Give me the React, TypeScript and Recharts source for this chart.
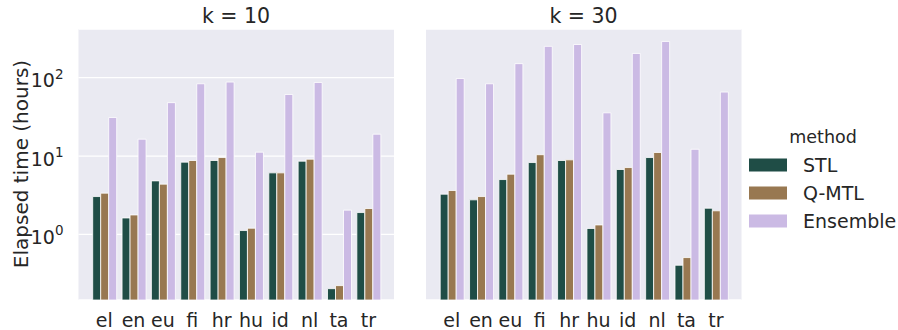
import { BarChart, Bar, XAxis, YAxis, CartesianGrid } from "recharts";

const languages = ["el", "en", "eu", "fi", "hr", "hu", "id", "nl", "ta", "tr"];

// k = 10
const stlK10 = [3.04, 1.62, 4.82, 8.36, 8.77, 1.12, 6.1, 8.6, 0.203, 1.9];
const qmtlK10 = [3.36, 1.77, 4.38, 8.77, 9.57, 1.2, 6.1, 9.12, 0.222, 2.14];
const ensembleK10 = [31, 16.4, 48, 83.6, 87.9, 11.2, 61, 86.9, 2.04, 19];

// k = 30
const stlK30 = [3.26, 2.76, 5.01, 8.26, 8.77, 1.19, 6.73, 9.57, 0.404, 2.16];
const qmtlK30 = [3.63, 3.04, 5.87, 10.4, 8.94, 1.32, 7.13, 11.1, 0.506, 2.0];
const ensembleK30 = [97.7, 83.6, 151, 251, 265, 35.6, 204, 290, 12.2, 65.5];

const methods = ["STL", "Q-MTL", "Ensemble"];
const yTicks = [1, 10, 100];
const yDomain = [0.1455, 418];

const colors: Record<string, string> = {
  STL: "#1f4d46",
  "Q-MTL": "#987851",
  Ensemble: "#cbbae4",
};

const font = "DejaVu Sans, sans-serif";
const textColor = "#262626";

function buildRows(stl: number[], qmtl: number[], ens: number[]) {
  return languages.map((lang, i) => ({
    lang,
    STL: stl[i],
    "Q-MTL": qmtl[i],
    Ensemble: ens[i],
  }));
}

const rowsK10 = buildRows(stlK10, qmtlK10, ensembleK10);
const rowsK30 = buildRows(stlK30, qmtlK30, ensembleK30);

const LangTick = (props: any) => {
  const { x, y, payload } = props;
  return (
    <text x={x} y={y + 26.5} textAnchor="middle" fontSize={19} fontFamily={font} fill={textColor}>
      {payload.value}
    </text>
  );
};

const PowTick = (props: any) => {
  const { x, y, payload } = props;
  const exp = Math.round(Math.log10(payload.value));
  return (
    <text x={x - 7} y={y + 9.5} textAnchor="end" fontSize={19} fontFamily={font} fill={textColor}>
      <tspan>10</tspan>
      <tspan dy={-8.5} fontSize={13.5}>{exp}</tspan>
    </text>
  );
};

function Panel({ rows, width, axisWidth, showTicks }: any) {
  return (
    <BarChart
      width={width}
      height={330}
      data={rows}
      margin={{ top: 29, right: width - axisWidth - 315.5, bottom: 0, left: 0 }}
      barCategoryGap={3.2}
      barGap={0}
    >
      <CartesianGrid vertical={false} stroke="#ffffff" strokeWidth={1.3} fill="#eaeaf2" />
      <XAxis
        dataKey="lang"
        padding={{ left: 11, right: 11 }}
        axisLine={false}
        tickLine={false}
        tickSize={0}
        tickMargin={0}
        height={30}
        interval={0}
        tick={<LangTick />}
      />
      <YAxis
        type="number"
        scale="log"
        domain={yDomain}
        allowDataOverflow
        ticks={yTicks}
        width={axisWidth}
        axisLine={false}
        tickLine={false}
        tick={showTicks ? <PowTick /> : false}
      />
      {methods.map((m) => (
        <Bar
          key={m}
          dataKey={m}
          fill={colors[m]}
          stroke="#ffffff"
          strokeWidth={0.8}
          isAnimationActive={false}
        />
      ))}
    </BarChart>
  );
}

export default function App() {
  return (
    <div
      style={{
        position: "absolute",
        left: 0,
        top: 0,
        width: 898,
        height: 330,
        background: "#ffffff",
        overflow: "hidden",
      }}
    >
      <div style={{ position: "absolute", left: 0, top: 0 }}>
        <Panel rows={rowsK10} width={400} axisWidth={78.5} showTicks />
      </div>
      <div style={{ position: "absolute", left: 416, top: 0 }}>
        <Panel rows={rowsK30} width={330} axisWidth={10} showTicks={false} />
      </div>

      <svg
        width={898}
        height={330}
        style={{ position: "absolute", left: 0, top: 0, pointerEvents: "none" }}
      >
        <text x={236} y={22.5} textAnchor="middle" fontSize={20.5} fontFamily={font} fill={textColor}>
          k = 10
        </text>
        <text x={583.5} y={22.5} textAnchor="middle" fontSize={20.5} fontFamily={font} fill={textColor}>
          k = 30
        </text>
        <text
          x={28}
          y={164}
          textAnchor="middle"
          fontSize={20}
          fontFamily={font}
          fill={textColor}
          transform="rotate(-90 28 164)"
        >
          Elapsed time (hours)
        </text>

        {/* legend */}
        <text x={823} y={143} textAnchor="middle" fontSize={17.5} fontFamily={font} fill={textColor}>
          method
        </text>
        {methods.map((m, i) => (
          <g key={m}>
            <rect x={749} y={158.5 + i * 28} width={38} height={13} fill={colors[m]} />
            <text x={803} y={171.5 + i * 28} fontSize={19} fontFamily={font} fill={textColor}>
              {m}
            </text>
          </g>
        ))}
      </svg>
    </div>
  );
}
